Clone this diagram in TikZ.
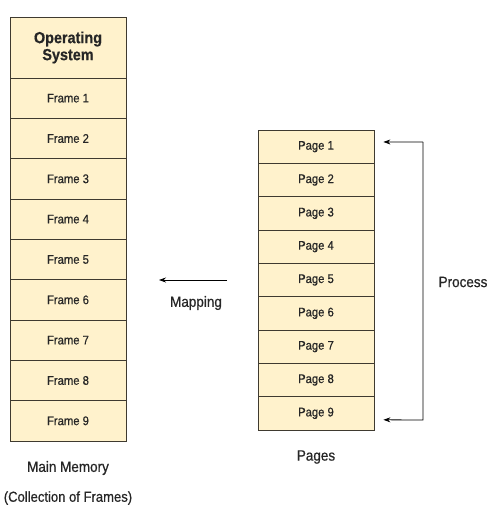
\documentclass[tikz,border=0pt]{standalone}
\usepackage{fontspec}
\setmainfont{Liberation Sans}[FakeStretch = 0.9, FakeBold = 0.6]
\usetikzlibrary{calc,positioning,arrows.meta}

\definecolor{cellfill}{HTML}{FFF2CC}
\definecolor{celldraw}{HTML}{3F3A30}

\tikzset{
  cell/.style = {draw = celldraw, fill = cellfill, line width = 0.8pt, minimum width = 116pt, inner sep = 0pt, text = black!85, font = \fontsize{12.5}{14}\selectfont},
  label text/.style = {font = \fontsize{15}{17}\selectfont, text = black!85},
  map arrow/.style = {-{Stealth[length=7pt,width=5pt]}, line width = 0.8pt}
}

\begin{document}
\begin{tikzpicture}[x = 1pt, y = -1pt]
\useasboundingbox (0,0) rectangle (497,515);
% main memory
\node[cell, minimum height = 61pt, align = center, font = \bfseries\fontsize{16}{17}\selectfont] (os) at (68,47.5) {Operating\\System};
\foreach \i in {1,...,9}
  \node[cell, minimum height = 40.33pt] (frame\i) at (68,{78 + 40.33*(\i - 0.5)}) {Frame \i};
\node[label text] (mem) at (68,468) {Main Memory};
\node[label text, font = \fontsize{14.5}{16}\selectfont] (coll) at (68,498) {(Collection of Frames)};
% pages
\foreach \i in {1,...,9}
  \node[cell, minimum height = 33.33pt] (page\i) at (316,{130 + 33.33*(\i - 0.5)}) {Page \i};
\node[label text] (pages) at (316,457) {Pages};
% mapping
\coordinate (mapstart) at (227,280);
\coordinate (mapend) at (159,280);
\draw[map arrow] (mapstart) -- (mapend);
\node[label text] (mapping) at (196,303) {Mapping};
% process
\coordinate (topend) at ($(page1.east) + (9,-4.7)$);
\coordinate (botend) at ($(page9.east) + (9,6.5)$);
\coordinate (topcorner) at (423,142);
\coordinate (botcorner) at (423,420);
\draw[map arrow] (topcorner) -- (topend);
\draw[map arrow] (topcorner) -- (botcorner) -- (botend);
\node[label text] (process) at (463,282) {Process};
\end{tikzpicture}
\end{document}
